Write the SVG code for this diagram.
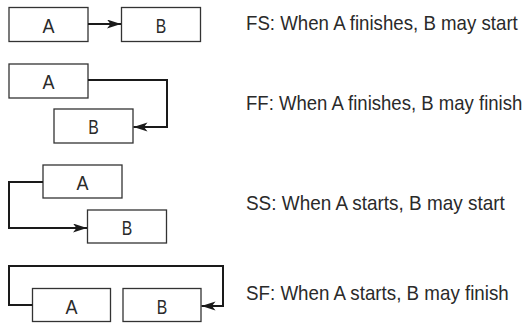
<svg xmlns="http://www.w3.org/2000/svg" width="527" height="323" viewBox="0 0 527 323">
<defs>
<marker id="ah" markerUnits="userSpaceOnUse" markerWidth="15" markerHeight="10" refX="14" refY="4.5" orient="auto">
<path d="M0,0 L14,4.5 L0,9 L3.5,4.5 z" fill="#1a1a1a"/>
</marker>
<style>
.box{fill:#fff;stroke:#333;stroke-width:1.3}
.lbl{font-family:"Liberation Sans",Arial,sans-serif;font-size:21px;fill:#2a2a2a;text-anchor:middle}
.cap{font-family:"Liberation Sans",Arial,sans-serif;font-size:20.5px;fill:#2a2a2a}
.con{fill:none;stroke:#1a1a1a;stroke-width:2;marker-end:url(#ah)}
</style>
</defs>
<rect width="527" height="323" fill="#fff"/>
<g id="fs-a"><rect class="box" x="9" y="7.5" width="79" height="34"/><text class="lbl" x="48.5" y="32.5" textLength="12" lengthAdjust="spacingAndGlyphs">A</text></g>
<g id="fs-b"><rect class="box" x="121.5" y="7.5" width="79" height="34"/><text class="lbl" x="161" y="32.5" textLength="10.5" lengthAdjust="spacingAndGlyphs">B</text></g>
<g id="ff-a"><rect class="box" x="9" y="64" width="79" height="34"/><text class="lbl" x="48.5" y="89" textLength="12" lengthAdjust="spacingAndGlyphs">A</text></g>
<g id="ff-b"><rect class="box" x="54" y="109" width="79" height="34"/><text class="lbl" x="93.5" y="134" textLength="10.5" lengthAdjust="spacingAndGlyphs">B</text></g>
<g id="ss-a"><rect class="box" x="43" y="165" width="79" height="33"/><text class="lbl" x="82.5" y="189.5" textLength="12" lengthAdjust="spacingAndGlyphs">A</text></g>
<g id="ss-b"><rect class="box" x="87.5" y="210" width="79" height="33"/><text class="lbl" x="127" y="234.5" textLength="10.5" lengthAdjust="spacingAndGlyphs">B</text></g>
<g id="sf-a"><rect class="box" x="32.5" y="288.5" width="78" height="33"/><text class="lbl" x="71.5" y="313.5" textLength="12" lengthAdjust="spacingAndGlyphs">A</text></g>
<g id="sf-b"><rect class="box" x="123" y="288.5" width="78" height="33"/><text class="lbl" x="162" y="313.5" textLength="10.5" lengthAdjust="spacingAndGlyphs">B</text></g>
<g id="connectors">
<path class="con" d="M88,24 L121,24"/>
<path class="con" d="M88,80 L167,80 L167,127 L133.5,127"/>
<path class="con" d="M43,182 L9,182 L9,228 L87,228"/>
<path class="con" d="M32.5,305 L9,305 L9,266 L223,266 L223,306 L201.5,306"/>
</g>
<g id="captions">
<text class="cap" transform="translate(246,29.5) scale(0.9,1)" textLength="302" lengthAdjust="spacingAndGlyphs">FS: When A finishes, B may start</text>
<text class="cap" transform="translate(246,110) scale(0.9,1)" textLength="307" lengthAdjust="spacingAndGlyphs">FF: When A finishes, B may finish</text>
<text class="cap" transform="translate(246,210) scale(0.9,1)" textLength="287.5" lengthAdjust="spacingAndGlyphs">SS: When A starts, B may start</text>
<text class="cap" transform="translate(246,300) scale(0.9,1)" textLength="292" lengthAdjust="spacingAndGlyphs">SF: When A starts, B may finish</text>
</g>
</svg>
